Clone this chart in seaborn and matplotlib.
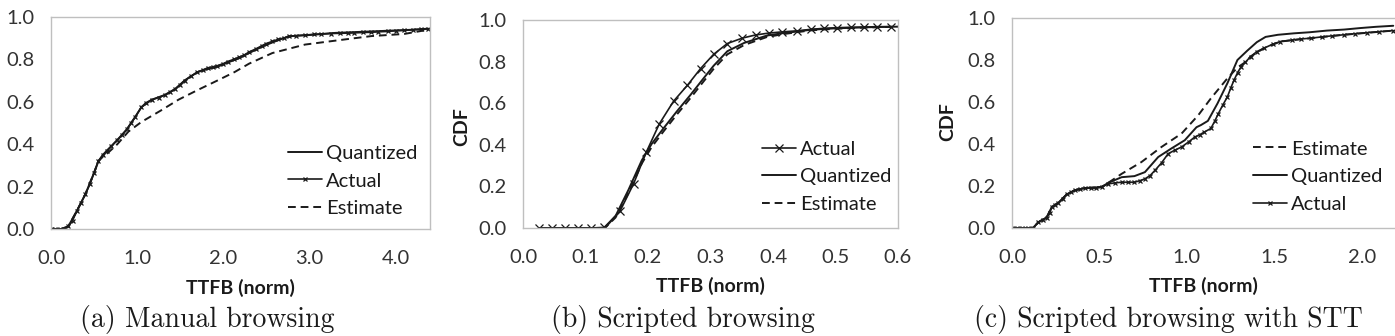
import matplotlib
matplotlib.use("Agg")
import matplotlib.pyplot as plt
import seaborn as sns
from matplotlib.ticker import FormatStrFormatter, MultipleLocator

# ---------------- data ----------------
# (a) Manual browsing
a_actual_x = [0.00, 0.05, 0.10, 0.15, 0.20, 0.25, 0.30, 0.35, 0.40, 0.45, 0.50, 0.55, 0.60, 0.65,
              0.70, 0.77, 0.83, 0.88, 0.93, 0.98, 1.05, 1.10, 1.17, 1.25, 1.32, 1.38, 1.44, 1.50,
              1.55, 1.62, 1.70, 1.76, 1.82, 1.88, 1.93, 2.00, 2.05, 2.12, 2.18, 2.24, 2.30, 2.38,
              2.45, 2.50, 2.57, 2.64, 2.70, 2.76, 2.85, 2.95, 3.05, 3.14, 3.25, 3.35, 3.45, 3.52,
              3.62, 3.72, 3.80, 3.91, 4.00, 4.10, 4.20, 4.29, 4.38]
a_actual_y = [0.000, 0.000, 0.000, 0.000, 0.012, 0.040, 0.085, 0.125, 0.165, 0.210, 0.265, 0.320,
              0.350, 0.370, 0.390, 0.420, 0.445, 0.470, 0.500, 0.530, 0.575, 0.595, 0.610, 0.620,
              0.632, 0.645, 0.660, 0.680, 0.700, 0.720, 0.740, 0.750, 0.760, 0.765, 0.770, 0.780,
              0.790, 0.800, 0.810, 0.820, 0.835, 0.850, 0.865, 0.875, 0.885, 0.895, 0.900, 0.910,
              0.912, 0.915, 0.918, 0.920, 0.922, 0.923, 0.924, 0.925, 0.927, 0.928, 0.930, 0.932,
              0.935, 0.937, 0.940, 0.942, 0.944]
a_quant_x = [0.00, 0.12, 0.20, 0.30, 0.40, 0.50, 0.55, 0.65, 0.77, 0.88, 0.98, 1.05, 1.17, 1.32,
             1.44, 1.55, 1.70, 1.82, 1.93, 2.05, 2.18, 2.30, 2.45, 2.57, 2.70, 2.80, 3.00, 3.30,
             3.60, 3.90, 4.20, 4.38]
a_quant_y = [0.000, 0.000, 0.012, 0.085, 0.165, 0.265, 0.320, 0.370, 0.420, 0.470, 0.530, 0.575,
             0.610, 0.632, 0.660, 0.700, 0.740, 0.755, 0.765, 0.785, 0.805, 0.830, 0.860, 0.880,
             0.900, 0.910, 0.915, 0.925, 0.930, 0.935, 0.940, 0.945]
a_est_x = [0.00, 0.12, 0.20, 0.30, 0.40, 0.50, 0.55, 0.60, 0.65, 0.77, 0.90, 1.05, 1.28, 1.48,
           1.70, 1.93, 2.13, 2.30, 2.57, 2.95, 3.33, 3.72, 4.10, 4.38]
a_est_y = [0.000, 0.000, 0.012, 0.085, 0.165, 0.265, 0.320, 0.340, 0.355, 0.400, 0.460, 0.505,
           0.560, 0.610, 0.655, 0.700, 0.740, 0.780, 0.830, 0.870, 0.890, 0.910, 0.920, 0.940]

# (b) Scripted browsing
b_actual_x = [0.025, 0.046, 0.067, 0.088, 0.109, 0.130, 0.155, 0.177, 0.197, 0.218, 0.241, 0.263,
              0.284, 0.305, 0.327, 0.351, 0.372, 0.393, 0.415, 0.439, 0.460, 0.482, 0.503, 0.525,
              0.546, 0.567, 0.589]
b_actual_y = [0.000, 0.000, 0.000, 0.000, 0.000, 0.003, 0.080, 0.213, 0.363, 0.500, 0.610, 0.686,
              0.766, 0.835, 0.887, 0.913, 0.928, 0.937, 0.943, 0.948, 0.955, 0.960, 0.963, 0.965,
              0.966, 0.968, 0.968]
b_quant_x = [0.025, 0.131, 0.148, 0.169, 0.190, 0.206, 0.225, 0.246, 0.268, 0.289, 0.305, 0.327,
             0.354, 0.390, 0.416, 0.440, 0.460, 0.500, 0.550, 0.600]
b_quant_y = [0.000, 0.000, 0.057, 0.185, 0.325, 0.405, 0.480, 0.560, 0.640, 0.720, 0.780, 0.850,
             0.890, 0.925, 0.937, 0.945, 0.953, 0.960, 0.965, 0.968]
b_est_x = [0.025, 0.131, 0.148, 0.169, 0.190, 0.206, 0.225, 0.246, 0.268, 0.289, 0.305, 0.327,
           0.354, 0.390, 0.416, 0.440, 0.460, 0.500, 0.550, 0.600]
b_est_y = [0.000, 0.000, 0.050, 0.170, 0.310, 0.390, 0.465, 0.545, 0.625, 0.705, 0.765, 0.835,
           0.880, 0.918, 0.932, 0.942, 0.950, 0.958, 0.964, 0.968]

# (c) Scripted browsing with STT
c_actual_x = [0.00, 0.03, 0.06, 0.09, 0.12, 0.15, 0.175, 0.198, 0.215, 0.227, 0.245, 0.265, 0.29,
              0.313, 0.335, 0.36, 0.39, 0.417, 0.45, 0.48, 0.512, 0.55, 0.59, 0.627, 0.665, 0.70,
              0.73, 0.76, 0.79, 0.817, 0.855, 0.893, 0.93, 0.97, 1.01, 1.045, 1.075, 1.10, 1.137,
              1.16, 1.18, 1.205, 1.232, 1.25, 1.27, 1.29, 1.31, 1.335, 1.364, 1.40, 1.44, 1.49,
              1.535, 1.60, 1.65, 1.71, 1.77, 1.83, 1.896, 1.96, 2.03, 2.10, 2.18]
c_actual_y = [0.000, 0.000, 0.000, 0.000, 0.000, 0.027, 0.040, 0.050, 0.070, 0.099, 0.110, 0.120,
              0.140, 0.160, 0.170, 0.180, 0.186, 0.190, 0.190, 0.190, 0.195, 0.210, 0.215, 0.218,
              0.218, 0.218, 0.225, 0.234, 0.250, 0.274, 0.310, 0.354, 0.370, 0.386, 0.410, 0.433,
              0.445, 0.457, 0.474, 0.510, 0.545, 0.585, 0.625, 0.665, 0.705, 0.740, 0.768, 0.790,
              0.816, 0.840, 0.856, 0.875, 0.888, 0.895, 0.900, 0.904, 0.910, 0.915, 0.920, 0.925,
              0.930, 0.935, 0.940]
c_quant_x = [0.00, 0.12, 0.15, 0.198, 0.227, 0.265, 0.313, 0.36, 0.417, 0.512, 0.55, 0.627, 0.70,
             0.76, 0.836, 0.91, 0.988, 1.055, 1.08, 1.12, 1.175, 1.232, 1.289, 1.346, 1.40, 1.45,
             1.52, 1.612, 1.70, 1.80, 1.90, 1.99, 2.08, 2.18]
c_quant_y = [0.000, 0.000, 0.027, 0.050, 0.099, 0.120, 0.160, 0.180, 0.190, 0.195, 0.215, 0.242,
             0.247, 0.266, 0.338, 0.378, 0.418, 0.480, 0.490, 0.510, 0.593, 0.690, 0.800, 0.845,
             0.885, 0.910, 0.920, 0.927, 0.932, 0.940, 0.945, 0.952, 0.958, 0.963]
c_est_x = [0.00, 0.12, 0.15, 0.198, 0.227, 0.265, 0.313, 0.36, 0.417, 0.512, 0.55, 0.627, 0.74,
           0.855, 0.97, 1.065, 1.137, 1.232, 1.29, 1.335, 1.364, 1.44, 1.535, 1.71, 1.896, 2.18]
c_est_y = [0.000, 0.000, 0.027, 0.050, 0.099, 0.120, 0.160, 0.180, 0.190, 0.195, 0.215, 0.258,
           0.314, 0.386, 0.450, 0.537, 0.617, 0.713, 0.765, 0.790, 0.816, 0.856, 0.888, 0.904,
           0.920, 0.940]

captions = ["(a) Manual browsing", "(b) Scripted browsing", "(c) Scripted browsing with STT"]
xlabel = "TTFB (norm)"
ylabel = "CDF"

# ---------------- style ----------------
sns.set_theme(style="white")
plt.rcParams["font.family"] = ["Lato", "DejaVu Sans"]
FS = 14.5
GRAY = "#bfbfbf"
LINE = "#1a1a1a"
DASH = (0, (4, 2.5))

fig = plt.figure(figsize=(13.95, 3.36), dpi=100)
W, H = 1395.0, 336.0


def add_ax(l, r, t, b):
    return fig.add_axes([l / W, 1 - b / H, (r - l) / W, (b - t) / H])


axA = add_ax(51, 430, 17, 229)
axB = add_ax(523, 898, 20, 228)
axC = add_ax(1012, 1395, 18, 228)


def draw(ax, x, y, kind, ms):
    if kind == "Actual":
        sns.lineplot(x=x, y=y, ax=ax, color=LINE, lw=1.2, marker="x", markersize=ms,
                     markeredgewidth=0.9, markeredgecolor=LINE, label=kind,
                     estimator=None, sort=False)
    elif kind == "Quantized":
        sns.lineplot(x=x, y=y, ax=ax, color=LINE, lw=1.4, label=kind,
                     estimator=None, sort=False)
    else:
        sns.lineplot(x=x, y=y, ax=ax, color=LINE, lw=1.4, linestyle=DASH, label=kind,
                     estimator=None, sort=False)


def style(ax, xmax, xstep, legend_order, leg_xy, right_spine=True):
    ax.set_xlim(0, xmax)
    ax.set_ylim(0, 1.0)
    ax.xaxis.set_major_locator(MultipleLocator(xstep))
    ax.yaxis.set_major_locator(MultipleLocator(0.2))
    ax.xaxis.set_major_formatter(FormatStrFormatter("%.1f"))
    ax.yaxis.set_major_formatter(FormatStrFormatter("%.1f"))
    for s in ax.spines.values():
        s.set_color(GRAY)
        s.set_linewidth(1.0)
    if not right_spine:
        ax.spines["right"].set_visible(False)
    ax.tick_params(axis="both", direction="in", length=5, width=1, color=GRAY,
                   labelsize=FS, labelcolor="#333333")
    ax.tick_params(axis="x", pad=15)
    ax.tick_params(axis="y", pad=12)
    ax.set_xlabel(xlabel, fontsize=14, fontweight="bold", color="#1a1a1a")
    ax.xaxis.set_label_coords(0.5, -0.235)
    ax.set_ylabel("")
    handles, labels = ax.get_legend_handles_labels()
    hmap = dict(zip(labels, handles))
    ax.legend([hmap[k] for k in legend_order], legend_order, loc="upper left",
              bbox_to_anchor=leg_xy, frameon=False, fontsize=FS, handlelength=1.7,
              handletextpad=0.2, labelspacing=0.52, borderpad=0, borderaxespad=0,
              labelcolor="#1a1a1a")


# panel (a)
draw(axA, a_quant_x, a_quant_y, "Quantized", 3.5)
draw(axA, a_actual_x, a_actual_y, "Actual", 3.5)
draw(axA, a_est_x, a_est_y, "Estimate", 3.5)
style(axA, 4.4, 1.0, ["Quantized", "Actual", "Estimate"], (0.625, 0.397))

# panel (b)
draw(axB, b_quant_x, b_quant_y, "Quantized", 6)
draw(axB, b_est_x, b_est_y, "Estimate", 6)
draw(axB, b_actual_x, b_actual_y, "Actual", 6)
style(axB, 0.6, 0.1, ["Actual", "Quantized", "Estimate"], (0.637, 0.42))

# panel (c)
draw(axC, c_est_x, c_est_y, "Estimate", 3.5)
draw(axC, c_quant_x, c_quant_y, "Quantized", 3.5)
draw(axC, c_actual_x, c_actual_y, "Actual", 3.5)
style(axC, 2.19, 0.5, ["Estimate", "Quantized", "Actual"], (0.629, 0.417), right_spine=False)

# y labels (CDF) for panels b and c
for xc, yc in [(462, 127), (948, 122)]:
    fig.text(xc / W, 1 - yc / H, ylabel, rotation=90, ha="center", va="center",
             fontsize=14, fontweight="bold", color="#1a1a1a")

# captions
for xc, txt in zip([207, 683, 1168], captions):
    fig.text(xc / W, 1 - 320 / H, txt, ha="center", va="center", fontsize=20,
             family=["cmr10", "DejaVu Serif"], color="#1a1a1a")

fig.savefig("out.png", dpi=100)
